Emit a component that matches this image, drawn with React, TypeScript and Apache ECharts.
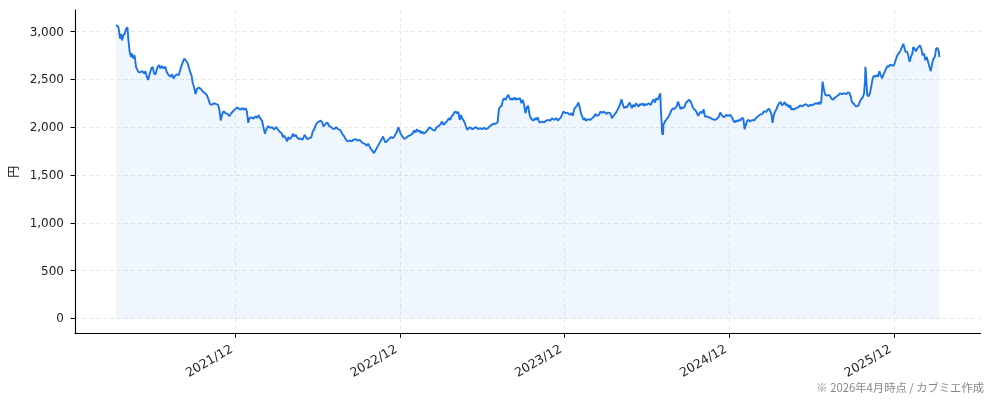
import { useEffect, useRef } from 'react';
import * as echarts from 'echarts';

// daily close: [days since startDate, price in 円]
const startDate = Date.UTC(2021, 2, 11);
const closes: [number, number][] = [
  [0, 3069], [5, 3045], [9, 2924], [11, 2976], [13, 2907], [16, 2959], [19, 2976], [22, 3028], [25, 3045], [27, 2924],
  [30, 2786], [33, 2734], [35, 2769], [38, 2717], [41, 2752], [44, 2631], [49, 2579], [53, 2572], [58, 2586], [62, 2562],
  [65, 2586], [68, 2528], [71, 2493], [74, 2552], [78, 2614], [81, 2631], [84, 2562], [87, 2552], [92, 2631], [95, 2648],
  [98, 2614], [101, 2641], [105, 2614], [109, 2631], [112, 2579], [116, 2545], [120, 2528], [124, 2552], [127, 2510], [131, 2538],
  [135, 2552], [139, 2545], [143, 2614], [148, 2683], [151, 2717], [154, 2700], [158, 2676], [161, 2631], [164, 2579], [167, 2545],
  [170, 2459], [173, 2414], [176, 2345], [179, 2400], [183, 2414], [188, 2400], [192, 2372], [197, 2355], [201, 2338], [206, 2276],
  [208, 2241], [213, 2234], [217, 2252], [222, 2241], [226, 2234], [229, 2183], [232, 2069], [235, 2131], [238, 2166], [242, 2148],
  [247, 2138], [251, 2114], [254, 2138], [259, 2166], [263, 2183], [268, 2207], [272, 2193], [277, 2183], [279, 2200], [284, 2183],
  [287, 2200], [290, 2166], [293, 2045], [296, 2097], [300, 2103], [305, 2090], [309, 2114], [313, 2097], [316, 2124], [319, 2097],
  [324, 2062], [327, 1993], [330, 1931], [333, 1976], [337, 2010], [342, 1993], [346, 2000], [350, 1976], [355, 2000], [359, 1976],
  [362, 1955], [367, 1937], [370, 1896], [373, 1910], [376, 1885], [379, 1851], [382, 1896], [385, 1875], [389, 1896], [392, 1931],
  [395, 1903], [398, 1920], [401, 1896], [405, 1875], [408, 1885], [413, 1868], [416, 1896], [418, 1920], [421, 1896], [424, 1875],
  [429, 1885], [433, 1896], [436, 1955], [439, 1972], [442, 2014], [445, 2042], [450, 2059], [454, 2069], [457, 2049], [460, 2007],
  [463, 2024], [466, 2042], [469, 2049], [472, 2014], [475, 2007], [479, 1990], [484, 1979], [488, 2000], [492, 1979], [497, 1972],
  [500, 1944], [503, 1920], [506, 1903], [509, 1875], [513, 1851], [518, 1861], [522, 1851], [526, 1868], [531, 1875], [535, 1861],
  [540, 1868], [543, 1851], [547, 1833], [552, 1826], [556, 1806], [559, 1826], [562, 1799], [565, 1771], [568, 1757], [571, 1729],
  [574, 1747], [577, 1771], [580, 1799], [584, 1833], [589, 1875], [592, 1903], [594, 1875], [597, 1840], [600, 1851], [605, 1875],
  [609, 1896], [614, 1885], [618, 1910], [623, 1955], [626, 2000], [628, 1972], [631, 1931], [636, 1896], [640, 1875], [645, 1896],
  [649, 1910], [654, 1920], [658, 1937], [661, 1965], [664, 1944], [667, 1979], [670, 1955], [673, 1965], [676, 1937], [679, 1955],
  [682, 1931], [686, 1944], [691, 1972], [695, 2000], [698, 1990], [702, 1972], [707, 1965], [711, 2000], [716, 2014], [720, 2035],
  [723, 2059], [726, 2024], [731, 2049], [735, 2069], [738, 2094], [741, 2076], [744, 2111], [747, 2128], [750, 2153], [753, 2163],
  [756, 2146], [759, 2160], [762, 2076], [765, 2128], [767, 2094], [770, 2076], [773, 2049], [776, 2007], [779, 1972], [782, 1990],
  [785, 2000], [790, 1979], [794, 1990], [799, 2000], [803, 1979], [807, 1990], [812, 1979], [816, 1993], [821, 1979], [825, 1990],
  [828, 2007], [833, 2024], [837, 2035], [841, 2035], [846, 2049], [849, 2188], [852, 2215], [855, 2222], [858, 2285], [861, 2302],
  [864, 2285], [867, 2319], [870, 2337], [872, 2312], [875, 2285], [878, 2302], [881, 2285], [884, 2312], [887, 2285], [890, 2302],
  [893, 2292], [896, 2302], [899, 2250], [902, 2285], [905, 2233], [908, 2146], [911, 2208], [914, 2222], [917, 2128], [920, 2094],
  [923, 2076], [926, 2069], [929, 2094], [932, 2076], [935, 2104], [938, 2059], [940, 2049], [945, 2059], [949, 2049], [954, 2069],
  [958, 2076], [963, 2069], [967, 2094], [972, 2076], [976, 2094], [980, 2069], [985, 2094], [989, 2128], [992, 2163], [997, 2146],
  [1001, 2153], [1006, 2128], [1010, 2146], [1013, 2118], [1016, 2188], [1019, 2208], [1022, 2222], [1025, 2257], [1028, 2215], [1031, 2146],
  [1034, 2111], [1037, 2076], [1040, 2094], [1042, 2069], [1047, 2083], [1051, 2076], [1056, 2094], [1060, 2111], [1063, 2139], [1066, 2118],
  [1071, 2128], [1074, 2163], [1078, 2153], [1082, 2163], [1087, 2139], [1091, 2153], [1096, 2146], [1100, 2094], [1103, 2118], [1108, 2146],
  [1112, 2181], [1115, 2208], [1118, 2243], [1121, 2292], [1124, 2233], [1127, 2198], [1130, 2215], [1133, 2208], [1136, 2233], [1139, 2257],
  [1142, 2222], [1144, 2198], [1147, 2233], [1150, 2215], [1153, 2250], [1156, 2233], [1159, 2215], [1162, 2243], [1165, 2233], [1168, 2250],
  [1171, 2222], [1174, 2243], [1177, 2233], [1181, 2250], [1186, 2233], [1189, 2267], [1192, 2292], [1195, 2257], [1198, 2302], [1201, 2285],
  [1204, 2319], [1207, 2354], [1208, 2215], [1210, 2042], [1211, 1937], [1213, 1920], [1214, 2024], [1217, 2059], [1220, 2076], [1223, 2094],
  [1226, 2118], [1229, 2146], [1232, 2181], [1235, 2198], [1238, 2188], [1241, 2208], [1244, 2222], [1246, 2267], [1249, 2233], [1252, 2188],
  [1255, 2208], [1258, 2198], [1261, 2215], [1264, 2257], [1267, 2267], [1270, 2285], [1273, 2278], [1276, 2250], [1279, 2208], [1282, 2188],
  [1285, 2174], [1288, 2153], [1291, 2118], [1294, 2146], [1297, 2163], [1300, 2146], [1303, 2188], [1306, 2111], [1310, 2111], [1315, 2104],
  [1319, 2094], [1323, 2083], [1328, 2076], [1332, 2083], [1337, 2111], [1340, 2153], [1343, 2128], [1346, 2111], [1349, 2104], [1353, 2128],
  [1357, 2118], [1362, 2128], [1366, 2104], [1369, 2069], [1372, 2049], [1375, 2069], [1378, 2059], [1381, 2076], [1384, 2069], [1388, 2094],
  [1391, 2094], [1394, 1979], [1397, 2024], [1400, 2069], [1403, 2076], [1406, 2059], [1411, 2076], [1415, 2069], [1419, 2094], [1425, 2118],
  [1428, 2131], [1433, 2138], [1437, 2166], [1442, 2159], [1445, 2183], [1448, 2193], [1451, 2166], [1454, 2124], [1456, 2045], [1459, 2131],
  [1462, 2166], [1465, 2193], [1468, 2228], [1471, 2252], [1474, 2262], [1477, 2228], [1480, 2241], [1483, 2262], [1486, 2228], [1489, 2241],
  [1492, 2207], [1495, 2228], [1498, 2183], [1501, 2193], [1504, 2183], [1508, 2200], [1513, 2207], [1517, 2228], [1522, 2217], [1526, 2234],
  [1530, 2241], [1533, 2228], [1536, 2217], [1539, 2234], [1544, 2228], [1548, 2241], [1553, 2252], [1556, 2241], [1559, 2262], [1561, 2241],
  [1564, 2262], [1567, 2476], [1570, 2390], [1573, 2338], [1576, 2331], [1581, 2338], [1584, 2321], [1587, 2297], [1590, 2286], [1593, 2303],
  [1595, 2310], [1598, 2321], [1603, 2338], [1606, 2355], [1610, 2345], [1615, 2355], [1619, 2345], [1624, 2366], [1627, 2355], [1630, 2310],
  [1632, 2262], [1635, 2252], [1638, 2234], [1641, 2217], [1644, 2217], [1647, 2234], [1650, 2269], [1653, 2297], [1656, 2310], [1659, 2355],
  [1661, 2476], [1662, 2631], [1663, 2579], [1665, 2424], [1666, 2338], [1669, 2321], [1672, 2355], [1675, 2424], [1678, 2510], [1681, 2538],
  [1684, 2528], [1687, 2545], [1690, 2528], [1693, 2586], [1696, 2545], [1699, 2510], [1702, 2552], [1705, 2579], [1708, 2614], [1711, 2641],
  [1714, 2631], [1717, 2655], [1720, 2648], [1723, 2641], [1726, 2655], [1729, 2700], [1732, 2745], [1734, 2759], [1737, 2779], [1740, 2803],
  [1743, 2838], [1746, 2872], [1748, 2838], [1751, 2786], [1754, 2793], [1757, 2752], [1760, 2683], [1763, 2734], [1766, 2769], [1768, 2838],
  [1771, 2821], [1774, 2793], [1777, 2821], [1780, 2838], [1783, 2855], [1786, 2821], [1789, 2752], [1792, 2769], [1795, 2700], [1798, 2734],
  [1801, 2683], [1804, 2631], [1807, 2586], [1810, 2665], [1813, 2717], [1816, 2734], [1819, 2821], [1822, 2828], [1825, 2786], [1826, 2734],
];

const tickYears = [2021, 2022, 2023, 2024, 2025]; // ticks on 1 Dec
const yTicks = [0, 500, 1000, 1500, 2000, 2500, 3000];

const DAY = 86400000;
const FONT = "'DejaVu Sans', 'Noto Sans CJK JP', sans-serif";

export default function App() {
  const divRef = useRef<HTMLDivElement | null>(null);

  useEffect(() => {
    if (!divRef.current) return;
    const chart = echarts.init(divRef.current, undefined, { renderer: 'svg' });

    const data = closes.map(([d, v]) => [startDate + d * DAY, v]);
    const tickTimes = tickYears.map((y) => Date.UTC(y, 11, 1));
    const lastDay = closes[closes.length - 1][0];
    const pad = lastDay * 0.05;

    chart.setOption({
      animation: false,
      textStyle: { fontFamily: FONT },
      grid: { left: 75, right: 13.5, top: 10, bottom: 67.7, containLabel: false, outerBoundsMode: 'none' },
      xAxis: {
        type: 'value',
        min: startDate - pad * DAY,
        max: startDate + (lastDay + pad) * DAY,
        axisLine: { onZero: false, lineStyle: { color: '#000', width: 1.1 } },
        axisTick: { show: true, customValues: tickTimes, length: 4.5, lineStyle: { color: '#000', width: 1 } },
        axisLabel: {
          customValues: tickTimes,
          rotate: 30,
          margin: 11.5,
          padding: [0, 5, 0, 0],
          color: '#222',
          fontSize: 12.5,
          fontFamily: FONT,
          formatter: (v: number) => {
            const d = new Date(v);
            return `${d.getUTCFullYear()}/${String(d.getUTCMonth() + 1).padStart(2, '0')}`;
          },
        },
        splitLine: { show: true, lineStyle: { color: '#e2e2e2', width: 0.8, type: [4, 3] } },
      },
      yAxis: {
        type: 'value',
        min: -155,
        max: 3225,
        name: '円',
        nameLocation: 'middle',
        nameRotate: 90,
        nameGap: 53,
        nameTextStyle: { color: '#222', fontSize: 12, fontFamily: "'Noto Sans CJK JP', sans-serif" },
        axisLine: { show: true, lineStyle: { color: '#000', width: 1.1 } },
        axisTick: { show: true, customValues: yTicks, length: 4.5, lineStyle: { color: '#000', width: 1 } },
        axisLabel: {
          customValues: yTicks,
          margin: 11,
          color: '#222',
          fontSize: 12,
          fontFamily: FONT,
          formatter: (v: number) => v.toLocaleString('en-US'),
        },
        splitLine: { show: true, lineStyle: { color: '#e2e2e2', width: 0.8, type: [4, 3] } },
      },
      series: [
        {
          type: 'line',
          data,
          showSymbol: false,
          lineStyle: { color: '#1a73e8', width: 1.9 },
          itemStyle: { color: '#1a73e8' },
          areaStyle: { color: 'rgba(26,115,232,0.095)' },
        },
      ],
      graphic: [
        {
          type: 'text',
          right: 10,
          top: 381,
          style: {
            text: '※ 2026年4月時点 / カブミエ作成',
            fill: '#888',
            fontSize: 11.3,
            fontFamily: "'Noto Sans CJK JP', sans-serif",
          },
        },
      ],
    });

    return () => chart.dispose();
  }, []);

  return <div ref={divRef} style={{ position: 'fixed', left: 0, top: 0, width: 994, height: 401 }} />;
}
